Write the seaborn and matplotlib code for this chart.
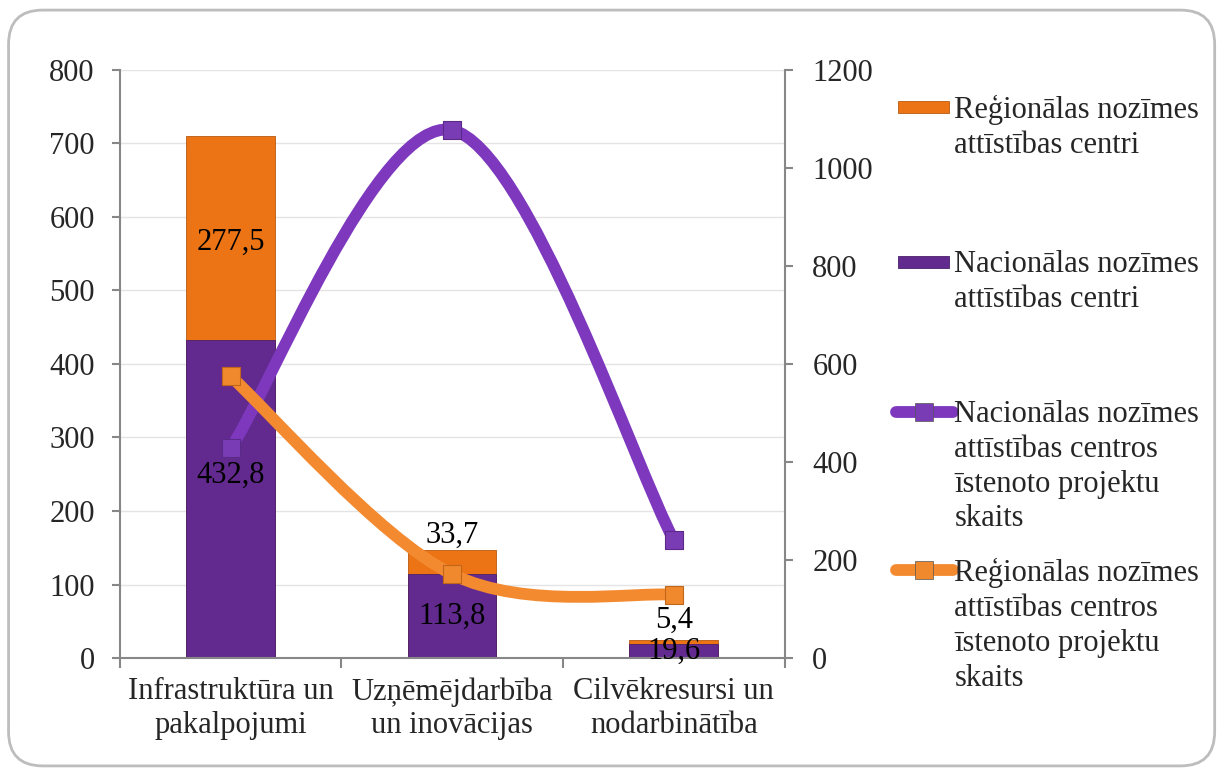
import numpy as np
import pandas as pd
import seaborn as sns
import matplotlib.pyplot as plt
from matplotlib.path import Path
from matplotlib.patches import PathPatch, FancyBboxPatch, Rectangle
from matplotlib.lines import Line2D

sns.set_theme(style="white")
plt.rcParams['font.family'] = ['Liberation Serif', 'DejaVu Serif']

# data
categories = ['Infrastruktūra un\npakalpojumi', 'Uzņēmējdarbība\nun inovācijas', 'Cilvēkresursi un\nnodarbinātība']
nacionalas = [432.8, 113.8, 19.6]      # left axis, bottom segment
regionalas = [277.5, 33.7, 5.4]        # left axis, top segment
nac_projekti = [428, 1077, 241]        # right axis
reg_projekti = [575, 171, 129]         # right axis

series_names = ['Reģionālas nozīmes\nattīstības centri',
                'Nacionālas nozīmes\nattīstības centri',
                'Nacionālas nozīmes\nattīstības centros\nīstenoto projektu\nskaits',
                'Reģionālas nozīmes\nattīstības centros\nīstenoto projektu\nskaits']

c_orange_bar = '#EC7414'
c_purple_bar = '#622A8E'
c_purple_line = '#7D38BE'
c_orange_line = '#F48A30'
c_axis = '#878787'

df = pd.DataFrame({'kat': categories, 'nac': nacionalas, 'reg': regionalas})
df['total'] = df['nac'] + df['reg']

fig = plt.figure(figsize=(12.22, 7.76), dpi=100)
ax = fig.add_axes([0.098, 0.152, 0.544, 0.758])

sns.barplot(data=df, x='kat', y='total', color=c_orange_bar, width=0.4, ax=ax,
            saturation=1, edgecolor='#b85a10', linewidth=0.6)
sns.barplot(data=df, x='kat', y='nac', color=c_purple_bar, width=0.4, ax=ax,
            saturation=1, edgecolor='#4a1f6c', linewidth=0.6)

ax.set_ylim(0, 800)
ax.set_yticks(range(0, 801, 100))
ax.set_xlim(-0.5, 2.5)
ax.set_xlabel('')
ax.set_ylabel('')
ax.yaxis.grid(True, color='#e4e4e4', lw=1)
ax.set_axisbelow(True)
for s in ['top', 'right']:
    ax.spines[s].set_visible(False)
for s in ['left', 'bottom']:
    ax.spines[s].set_color(c_axis)
    ax.spines[s].set_linewidth(1.5)
ax.tick_params(axis='y', direction='out', length=6, width=1.5, color=c_axis, pad=12,
               labelsize=22, left=True)
ax.set_xticks(range(len(categories)))
ax.set_xticklabels(categories, fontsize=22, linespacing=1.2)
ax.tick_params(axis='x', which='major', length=0, pad=14)
ax.set_xticks([-0.5, 0.5, 1.5, 2.5], minor=True)
ax.tick_params(axis='x', which='minor', direction='out', length=7, width=1.5,
               color=c_axis, bottom=True)

# data labels (comma decimals as in original)
nac_offsets = [24, 0, 0]
reg_offsets = [-5, 27, 21]
for i in range(len(categories)):
    ax.annotate(f'{nacionalas[i]:.1f}'.replace('.', ','), (i, nacionalas[i] / 2),
                xytext=(0, nac_offsets[i] * 0.72), textcoords='offset points',
                ha='center', va='center', fontsize=22, color='black', zorder=6)
    ax.annotate(f'{regionalas[i]:.1f}'.replace('.', ','), (i, nacionalas[i] + regionalas[i] / 2),
                xytext=(0, reg_offsets[i] * 0.72), textcoords='offset points',
                ha='center', va='center', fontsize=22, color='black', zorder=6)

# right axis with smoothed lines
ax2 = ax.twinx()
ax2.set_ylim(0, 1200)
ax2.set_yticks(range(0, 1201, 200))
for s in ['top', 'left', 'bottom']:
    ax2.spines[s].set_visible(False)
ax2.spines['right'].set_color(c_axis)
ax2.spines['right'].set_linewidth(1.5)
ax2.tick_params(axis='y', direction='out', length=6, width=1.5, color=c_axis, pad=14,
                labelsize=22, right=True)
ax2.grid(False)


def smooth_path(xs, ys):
    pts = np.column_stack([xs, ys]).astype(float)
    n = len(pts)
    verts = [pts[0]]
    codes = [Path.MOVETO]
    for i in range(n - 1):
        p0 = pts[max(i - 1, 0)]
        p1 = pts[i]
        p2 = pts[i + 1]
        p3 = pts[min(i + 2, n - 1)]
        verts += [p1 + (p2 - p0) / 6, p2 - (p3 - p1) / 6, p2]
        codes += [Path.CURVE4] * 3
    return Path(verts, codes)


xpos = np.arange(len(categories))
for vals, col in [(nac_projekti, c_purple_line), (reg_projekti, c_orange_line)]:
    ax2.add_patch(PathPatch(smooth_path(xpos, vals), fc='none', ec=col, lw=8.5,
                            capstyle='round', zorder=4))
sns.scatterplot(x=xpos, y=nac_projekti, marker='s', s=170, color='#7A3CB4',
                edgecolor='#5b2a88', linewidth=0.8, ax=ax2, zorder=5)
sns.scatterplot(x=xpos, y=reg_projekti, marker='s', s=170, color='#F0892E',
                edgecolor='#c0661a', linewidth=0.8, ax=ax2, zorder=5)

# legend drawn by hand so handles sit on the first line of each entry
leg_tops = [0.862, 0.662, 0.469, 0.265]
for i, name in enumerate(series_names):
    y = leg_tops[i]
    fig.text(0.781, y + 0.016, name, fontsize=22, va='top', ha='left', linespacing=1.27)
    if i == 0:
        fig.add_artist(Rectangle((0.735, y - 0.008), 0.042, 0.016, transform=fig.transFigure,
                                 fc=c_orange_bar, ec='#b85a10', lw=0.6))
    elif i == 1:
        fig.add_artist(Rectangle((0.735, y - 0.008), 0.042, 0.016, transform=fig.transFigure,
                                 fc=c_purple_bar, ec='#4a1f6c', lw=0.6))
    else:
        col = c_purple_line if i == 2 else c_orange_line
        mcol = '#7A3CB4' if i == 2 else '#F0892E'
        fig.add_artist(Line2D([0.733, 0.78], [y, y], transform=fig.transFigure, color=col,
                              lw=8.5, solid_capstyle='round'))
        fig.add_artist(Line2D([0.7565], [y], transform=fig.transFigure, marker='s',
                              markersize=13, color=mcol, mec='#555555', mew=0.5))

# rounded frame
fig.add_artist(FancyBboxPatch((0.007, 0.013), 0.987, 0.974,
                              boxstyle='round,pad=0,rounding_size=0.028',
                              mutation_aspect=1222 / 776, transform=fig.transFigure,
                              fc='none', ec='#bdbdbd', lw=2))

plt.savefig('out.png', dpi=100)
